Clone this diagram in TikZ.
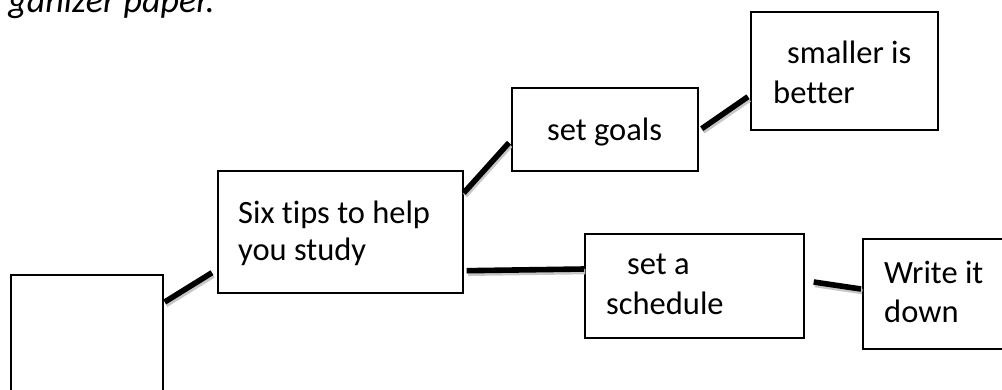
\documentclass[tikz,border=0pt]{standalone}
\usepackage{fontspec}
\setmainfont{Carlito}[Ligatures={NoCommon,NoContextual}]
\usetikzlibrary{calc}
\begin{document}
\begin{tikzpicture}[x=1pt,y=-1pt,
  box/.style={draw, line width=1.7pt, inner sep=0pt, anchor=north west},
  txt/.style={anchor=base west, inner sep=0pt, font=\fontsize{32.5}{39}\selectfont},
  link/.style={line width=5.6pt, line cap=butt,
    preaction={draw=black!22, line width=5.4pt,
      transform canvas={shift={(1.3pt,-2.6pt)}}}}]
\useasboundingbox (0,0) rectangle (1002,389);

% heading fragment
\node[anchor=base east, inner sep=0pt, font=\fontsize{36}{43}\selectfont\itshape] (head) at (215,12) {ganizer paper.};

% boxes
\node[box, minimum width=152pt, minimum height=150pt] (A) at (10,274) {};
\node[box, minimum width=245pt, minimum height=122pt] (B) at (217,170) {};
\node[box, minimum width=186pt, minimum height=83pt]  (C) at (511,87) {};
\node[box, minimum width=187pt, minimum height=118pt] (D) at (750,11) {};
\node[box, minimum width=219pt, minimum height=104pt] (E) at (584,233) {};
\node[box, minimum width=160pt, minimum height=110pt] (F) at (862,238) {};

% box texts
\node[txt] (b1) at (238,223) {Six tips to help};
\node[txt] (b2) at (238,260) {you study};
\node[txt] (c1) at (547,140) {set goals};
\node[txt] (d1) at (787,63)  {smaller is};
\node[txt] (d2) at (773,103) {better};
\node[txt] (e1) at (627,274) {set a};
\node[txt] (e2) at (606,314) {schedule};
\node[txt] (f1) at (884,283) {Write it};
\node[txt] (f2) at (884,322) {down};

% connectors
\draw[link] ($(A.north east)+(1,28)$) -- ($(B.south west)+(-5,-21)$);
\draw[link] ($(B.north east)+(0,23)$) -- ($(C.south west)+(-2,-29)$);
\draw[link] ($(B.south east)+(3,-23)$) -- ($(E.north west)+(0,36)$);
\draw[link] ($(C.south east)+(3,-43)$) -- ($(D.south west)+(-2,-34)$);
\draw[link] ($(E.north east)+(9,49)$) -- ($(F.north west)+(-1,51)$);
\end{tikzpicture}
\end{document}
